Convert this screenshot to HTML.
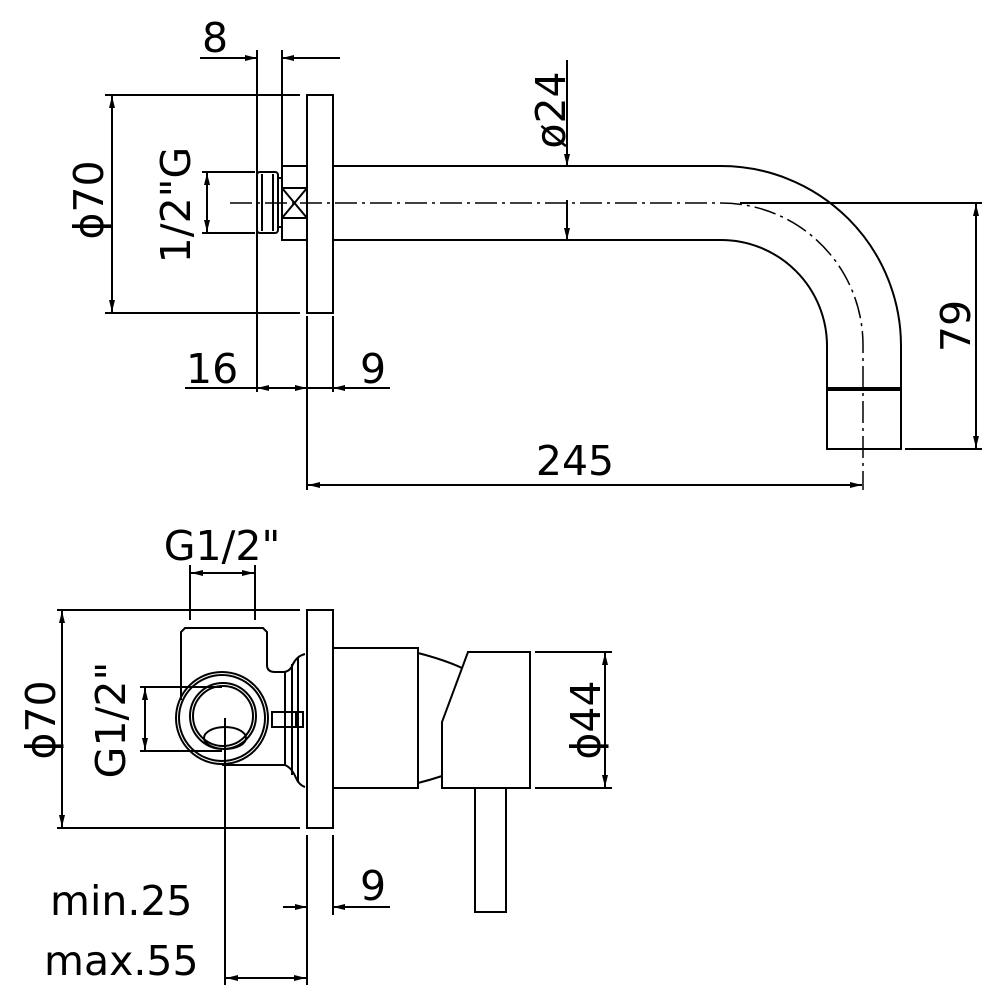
<!DOCTYPE html>
<html><head><meta charset="utf-8"><style>
html,body{margin:0;padding:0;background:#fff}
svg{display:block}
text{font-family:"DejaVu Sans","Liberation Sans",sans-serif;font-size:41px;fill:#000}
</style></head><body>
<svg width="1000" height="1000" viewBox="0 0 1000 1000" xmlns="http://www.w3.org/2000/svg">
<defs>
<marker id="a" viewBox="0 0 12 6" refX="12" refY="3" markerWidth="12" markerHeight="6" markerUnits="userSpaceOnUse" orient="auto-start-reverse"><path d="M0,0L12,3L0,6z" fill="#000"/></marker>
</defs>
<g fill="none" stroke="#000" stroke-width="2">
<!-- TOP VIEW -->
<rect x="307" y="95" width="26" height="218"/>
<rect x="282" y="166" width="25" height="74"/>
<rect x="282" y="188" width="25" height="30"/>
<path d="M282,188L307,218M307,188L282,218"/>
<rect x="257" y="172" width="21" height="61" rx="3"/>
<path d="M262,174V231M273,174V231M278,178H282M278,227H282"/>
<path d="M333,166H721A180,180 0 0 1 901,346V449H827V346A106,106 0 0 0 721,240H333"/>
<path d="M827,389H901" stroke-width="4"/>
<path d="M230,203H721A142,142 0 0 1 863,345V490" stroke-width="1.5" stroke-dasharray="22,5,3,5"/>
<path d="M257,50V392M282,50V166M307,316V392M333,316V392"/>
<path d="M200,58H257" marker-end="url(#a)"/>
<path d="M340,58H282" marker-end="url(#a)"/>
<path d="M105,95H300M105,313H300"/>
<path d="M112,96V312" marker-start="url(#a)" marker-end="url(#a)"/>
<path d="M202,172H255M202,233H255"/>
<path d="M207,173V232" marker-start="url(#a)" marker-end="url(#a)"/>
<path d="M185,388H333M333,388H390"/>
<path d="M285,388H257" marker-end="url(#a)"/>
<path d="M280,388H307" marker-end="url(#a)"/>
<path d="M360,388H333" marker-end="url(#a)"/>
<path d="M567,60V166" marker-end="url(#a)"/>
<path d="M567,200V240" marker-end="url(#a)"/>
<path d="M740,203H982M905,449H982"/>
<path d="M976,204V448" marker-start="url(#a)" marker-end="url(#a)"/>
<path d="M307,320V490"/>
<path d="M308,485H862" marker-start="url(#a)" marker-end="url(#a)"/>

<!-- BOTTOM VIEW -->
<rect x="307" y="610" width="26" height="218"/>
<rect x="333" y="648" width="85" height="140"/>
<path d="M418,653Q445,660 462,668M418,783Q430,780 442,776"/>
<path d="M468,652H530V788H442V722Z"/>
<rect x="475" y="788" width="31" height="124"/>
<!-- valve -->
<path d="M181,700V632L185,628H263L267,632V665Q267,672 275,672H283Q290,672 293,664Q297,656 305,654"/>
<path d="M222,765H285Q292,768 296,778Q299,785 305,787"/>
<path d="M285,672V765M292,664V775M298,658V782"/>
<circle cx="222" cy="718" r="46"/>
<circle cx="222" cy="718" r="43"/>
<circle cx="223" cy="716" r="33"/>
<circle cx="223" cy="716" r="30"/>
<ellipse cx="225" cy="738" rx="21" ry="11"/>
<rect x="272" y="712" width="31" height="15"/>
<path d="M296,712V727"/>
<path d="M190,565V620M255,565V620"/>
<path d="M191,573H254" marker-start="url(#a)" marker-end="url(#a)"/>
<path d="M57,610H300M57,828H300"/>
<path d="M62,611V827" marker-start="url(#a)" marker-end="url(#a)"/>
<path d="M140,687H222M140,751H222"/>
<path d="M145,688V750" marker-start="url(#a)" marker-end="url(#a)"/>
<path d="M535,652H612M535,788H612"/>
<path d="M605,653V787" marker-start="url(#a)" marker-end="url(#a)"/>
<path d="M307,835V985M333,835V915"/>
<path d="M283,907H307" marker-end="url(#a)"/>
<path d="M390,907H333" marker-end="url(#a)"/>
<path d="M225,718V985"/>
<path d="M226,978H306" marker-start="url(#a)" marker-end="url(#a)"/>
</g>
<text x="202" y="52">8</text>
<text transform="translate(103,200) rotate(-90)" text-anchor="middle">ϕ70</text>
<text transform="translate(190,205) rotate(-90)" text-anchor="middle">1/2"G</text>
<text x="186" y="383">16</text>
<text x="360" y="383">9</text>
<text transform="translate(565,110) rotate(-90)" text-anchor="middle">ø24</text>
<text transform="translate(970,326) rotate(-90)" text-anchor="middle">79</text>
<text x="575" y="475" text-anchor="middle">245</text>
<text x="222" y="560" text-anchor="middle">G1/2"</text>
<text transform="translate(55,720) rotate(-90)" text-anchor="middle">ϕ70</text>
<text transform="translate(125,720) rotate(-90)" text-anchor="middle">G1/2"</text>
<text transform="translate(600,720) rotate(-90)" text-anchor="middle">ϕ44</text>
<text x="360" y="900">9</text>
<text x="50" y="915">min.25</text>
<text x="44" y="975">max.55</text>
</svg>
</body></html>
